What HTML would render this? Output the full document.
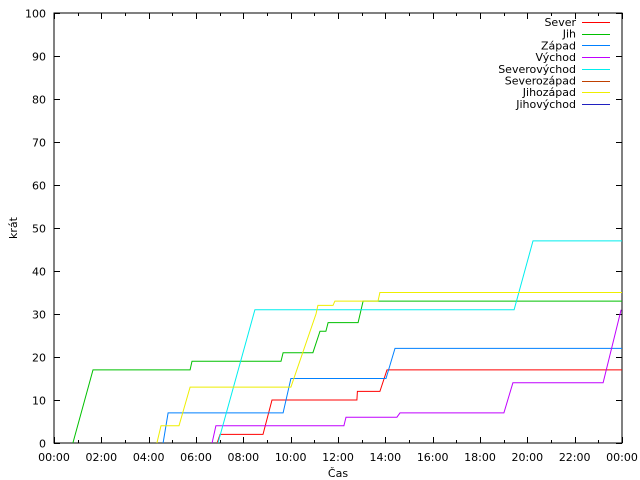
<!DOCTYPE html>
<html><head><meta charset="utf-8"><style>
html,body{margin:0;padding:0;background:#fff}
svg{display:block}
text{font-family:"DejaVu Sans","Liberation Sans",sans-serif;font-size:11px;fill:#000}
</style></head><body>
<svg id="chart" width="640" height="480" xmlns="http://www.w3.org/2000/svg">
<rect x="0" y="0" width="640" height="480" fill="#fff"/>
<g id="grid"></g>
<g id="series"></g>
<g id="legend"></g>
<text x="338" y="477" text-anchor="middle">Čas</text>
<text x="17" y="228" text-anchor="middle" transform="rotate(-90 17 228)">krát</text>
</svg>
<script>
const seriesNames = ["Sever","Jih","Západ","Východ","Severovýchod","Severozápad","Jihozápad","Jihovýchod"];
const seriesColors = ["#ff0000","#00c000","#0080ff","#c000ff","#00eeee","#c04000","#eeee00","#2020c0"];
const sever = [[6.89,0],[7.02,2],[8.83,2],[9.21,10],[12.8,10],[12.82,12],[13.77,12],[14.07,17],[24,17]];
const jih = [[0.8,0],[1.65,17],[5.75,17],[5.83,19],[9.59,19],[9.68,21],[10.94,21],[11.24,26],[11.49,26],[11.58,28],[12.85,28],[13.06,33],[24,33]];
const zapad = [[4.61,0],[4.82,7],[9.68,7],[10.01,15],[14.03,15],[14.41,22],[24,22]];
const vychod = [[6.68,0],[6.84,4],[12.25,4],[12.34,6],[14.49,6],[14.62,7],[19.01,7],[19.39,14],[23.2,14],[23.96,31]];
const severovychod = [[6.93,0],[8.49,31],[19.44,31],[20.24,47],[24,47]];
const severozapad = [];
const jihozapad = [[4.35,0],[4.52,4],[5.28,4],[5.75,13],[10.01,13],[11.07,30],[11.15,32],[11.79,32],[11.87,33],[13.69,33],[13.77,35],[24,35]];
const jihovychod = [];
const seriesData = [sever,jih,zapad,vychod,severovychod,severozapad,jihozapad,jihovychod];
const yTicks = [0,10,20,30,40,50,60,70,80,90,100];
const xTickLabels = ["00:00","02:00","04:00","06:00","08:00","10:00","12:00","14:00","16:00","18:00","20:00","22:00","00:00"];

const L=54,R=622,T=13,B=443;
const xs = h => L + h*(R-L)/24;
const ys = v => B - v*(B-T)/100;
const NS="http://www.w3.org/2000/svg";
function mk(tag, attrs, parent){const e=document.createElementNS(NS,tag);for(const k in attrs)e.setAttribute(k,attrs[k]);parent.appendChild(e);return e;}
const grid=document.getElementById('grid');
const frame=mk('rect',{x:L,y:T,width:R-L,height:B-T,fill:'none',stroke:'#000','stroke-width':1},grid);


yTicks.forEach(v=>{
  const y=Math.round(ys(v))+0.5;
  const t=mk('path',{d:`M${L} ${y}h6M${R} ${y}h-6`,stroke:'#000','stroke-width':1},grid);
  
  
  const lb=mk('text',{x:L-8,y:y+4,'text-anchor':'end'},grid);
  lb.textContent=v;
  
  
});
for(let h=0;h<=24;h++){
  const x=Math.round(xs(h))+0.5;
  const len=h%2===0?6:3;
  const t=mk('path',{d:`M${x} ${B}v-${len}M${x} ${T}v${len}`,stroke:'#000','stroke-width':1},grid);
  
  
}
xTickLabels.forEach((s,i)=>{
  const lb=mk('text',{x:xs(i*2),y:B+18,'text-anchor':'middle'},grid);
  lb.textContent=s;
  
  
});
const sg=document.getElementById('series');
seriesData.forEach((d,i)=>{
  if(!d.length)return;
  const p=mk('polyline',{points:d.map(q=>xs(q[0]).toFixed(1)+','+ys(q[1]).toFixed(1)).join(' '),fill:'none',stroke:seriesColors[i],'stroke-width':1},sg);
  
  
});
const lg=document.getElementById('legend');
seriesNames.forEach((n,i)=>{
  const y=22+i*11.7;
  const t=mk('text',{x:576,y:y+4,'text-anchor':'end'},lg);
  t.textContent=n;
  
  
  const l=mk('line',{x1:582,x2:610,y1:Math.round(y)+0.5,y2:Math.round(y)+0.5,stroke:seriesColors[i],'stroke-width':1},lg);
  
  
});
</script>
</body></html>
